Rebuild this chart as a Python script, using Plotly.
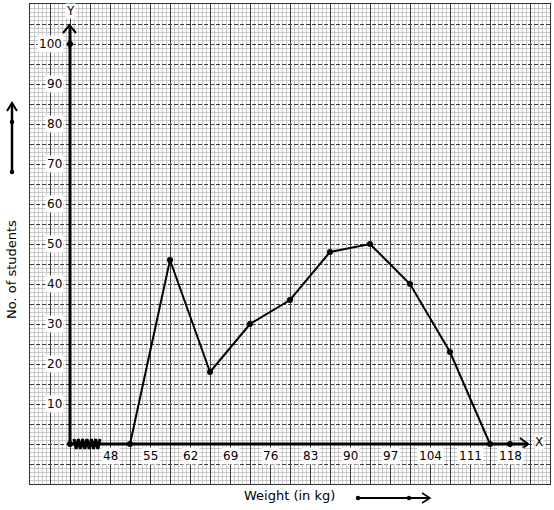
import plotly.graph_objects as go

# ---- data ----
class_marks = [51.5, 58.5, 65.5, 72.5, 79.5, 86.5, 93.5, 100.5, 107.5, 114.5]
students = [0, 46, 18, 30, 36, 48, 50, 40, 23, 0]
x_tick_vals = [48, 55, 62, 69, 76, 83, 90, 97, 104, 111, 118]
y_tick_vals = [10, 20, 30, 40, 50, 60, 70, 80, 90, 100]
extra_x = [41, 41, 118]
extra_y = [0, 100, 0]

W, H = 554, 510
ML, MR, MT, MB = 30, 4, 4, 26
X0, X1 = 34, 125          # kg range of the graph paper
Y0, Y1 = -10, 110         # students range of the graph paper
ORIGIN_X = 41             # broken x-axis origin

def kx(px):   # pixel x -> kg
    return X0 + (px - ML) * (X1 - X0) / (W - ML - MR)

def vy(py):   # pixel y -> value
    return Y1 - (py - MT) * (Y1 - Y0) / (H - MT - MB)

def paper_x(px):
    return (px - ML) / (W - ML - MR)

def paper_y(py):
    return (H - MB - py) / (H - MT - MB)

fig = go.Figure()

# axes lines (x and y)
fig.add_trace(go.Scatter(x=[ORIGIN_X, kx(528)], y=[0, 0], mode="lines",
                         line=dict(color="black", width=3), hoverinfo="skip", showlegend=False))
fig.add_trace(go.Scatter(x=[ORIGIN_X, ORIGIN_X], y=[0, vy(26)], mode="lines",
                         line=dict(color="black", width=3), hoverinfo="skip", showlegend=False))
# arrow heads
fig.add_trace(go.Scatter(x=[kx(520), kx(528), kx(520)], y=[vy(438), vy(444), vy(450)], mode="lines",
                         line=dict(color="black", width=2), hoverinfo="skip", showlegend=False))
fig.add_trace(go.Scatter(x=[kx(63), kx(69.5), kx(76)], y=[vy(33), vy(25), vy(33)], mode="lines",
                         line=dict(color="black", width=2), hoverinfo="skip", showlegend=False))
# zigzag break
zz_x, zz_y = [], []
n = 12
for i in range(n + 1):
    zz_x.append(kx(74 + i * 26 / n))
    zz_y.append(vy(439 if i % 2 == 0 else 449))
fig.add_trace(go.Scatter(x=zz_x, y=zz_y, mode="lines",
                         line=dict(color="black", width=3), hoverinfo="skip", showlegend=False))

# frequency polygon
fig.add_trace(go.Scatter(x=class_marks, y=students, mode="lines+markers",
                         line=dict(color="black", width=2),
                         marker=dict(color="black", size=6), showlegend=False))
fig.add_trace(go.Scatter(x=extra_x, y=extra_y, mode="markers",
                         marker=dict(color="black", size=6), showlegend=False, cliponaxis=False))

annotations = []
for v in x_tick_vals:
    annotations.append(dict(x=v, y=vy(456), xref="x", yref="y", text=str(v), showarrow=False,
                            xanchor="center", yanchor="middle",
                            font=dict(family="DejaVu Sans", size=12, color="black"),
                            bgcolor="white", borderpad=1))
for v in y_tick_vals:
    annotations.append(dict(x=ORIGIN_X, y=v, xref="x", yref="y", text=str(v), showarrow=False,
                            xanchor="right", yanchor="middle", xshift=-6,
                            font=dict(family="DejaVu Sans", size=12, color="black"),
                            bgcolor="white", borderpad=1))
annotations.append(dict(x=kx(539), y=vy(442), xref="x", yref="y", text="X", showarrow=False,
                        xanchor="center", yanchor="middle",
                        font=dict(family="DejaVu Sans", size=12, color="black"),
                        bgcolor="white", borderpad=0))
annotations.append(dict(x=kx(70), y=vy(11), xref="x", yref="y", text="Y", showarrow=False,
                        xanchor="center", yanchor="middle",
                        font=dict(family="DejaVu Sans", size=12, color="black"),
                        bgcolor="white", borderpad=0))
annotations.append(dict(x=paper_x(289), y=paper_y(496), xref="paper", yref="paper",
                        text="Weight (in kg)", showarrow=False,
                        xanchor="center", yanchor="middle",
                        font=dict(family="DejaVu Sans", size=13, color="black")))
annotations.append(dict(x=paper_x(11), y=paper_y(270), xref="paper", yref="paper",
                        text="No. of students", showarrow=False, textangle=-90,
                        xanchor="center", yanchor="middle",
                        font=dict(family="DejaVu Sans", size=13, color="black")))

shapes = []
# left vertical arrow
shapes.append(dict(type="line", xref="paper", yref="paper",
                   x0=paper_x(12), x1=paper_x(12), y0=paper_y(172), y1=paper_y(104),
                   line=dict(color="black", width=2.5)))
shapes.append(dict(type="path", xref="paper", yref="paper",
                   path=f"M {paper_x(7)},{paper_y(111)} L {paper_x(12)},{paper_y(103)} L {paper_x(17)},{paper_y(111)}",
                   line=dict(color="black", width=2)))
# bottom horizontal arrow
shapes.append(dict(type="line", xref="paper", yref="paper",
                   x0=paper_x(358), x1=paper_x(429), y0=paper_y(498), y1=paper_y(498),
                   line=dict(color="black", width=2)))
shapes.append(dict(type="path", xref="paper", yref="paper",
                   path=f"M {paper_x(422)},{paper_y(493)} L {paper_x(430)},{paper_y(498)} L {paper_x(422)},{paper_y(503)}",
                   line=dict(color="black", width=1.5)))
for (cx, cy) in [(12, 122), (12, 172), (358, 498), (409, 498)]:
    r = 2.2
    shapes.append(dict(type="circle", xref="paper", yref="paper",
                       x0=paper_x(cx - r), x1=paper_x(cx + r), y0=paper_y(cy + r), y1=paper_y(cy - r),
                       fillcolor="black", line=dict(color="black", width=0)))

fig.update_layout(
    width=W, height=H,
    margin=dict(l=ML, r=MR, t=MT, b=MB, pad=0),
    paper_bgcolor="white", plot_bgcolor="white",
    showlegend=False,
    annotations=annotations, shapes=shapes,
    xaxis=dict(range=[X0, X1], showticklabels=False, ticks="", zeroline=False,
               showgrid=True, tick0=X0, dtick=3.5, gridcolor="#3a3a3a", gridwidth=1,
               minor=dict(tick0=X0, dtick=0.7, showgrid=True, gridcolor="#c8c8c8", gridwidth=1,
                          griddash="solid"),
               showline=True, mirror=True, linecolor="#333333", linewidth=1, fixedrange=True),
    yaxis=dict(range=[Y0, Y1], showticklabels=False, ticks="", zeroline=False,
               showgrid=True, tick0=Y0, dtick=5, gridcolor="#3a3a3a", gridwidth=1,
               griddash="4px,2px",
               minor=dict(tick0=Y0, dtick=1, showgrid=True, gridcolor="#c8c8c8", gridwidth=1,
                          griddash="solid"),
               showline=True, mirror=True, linecolor="#333333", linewidth=1, fixedrange=True),
)

fig.write_html("out.html", config={"displayModeBar": False},
               post_script="document.body.style.margin='0';document.body.style.padding='0';")
